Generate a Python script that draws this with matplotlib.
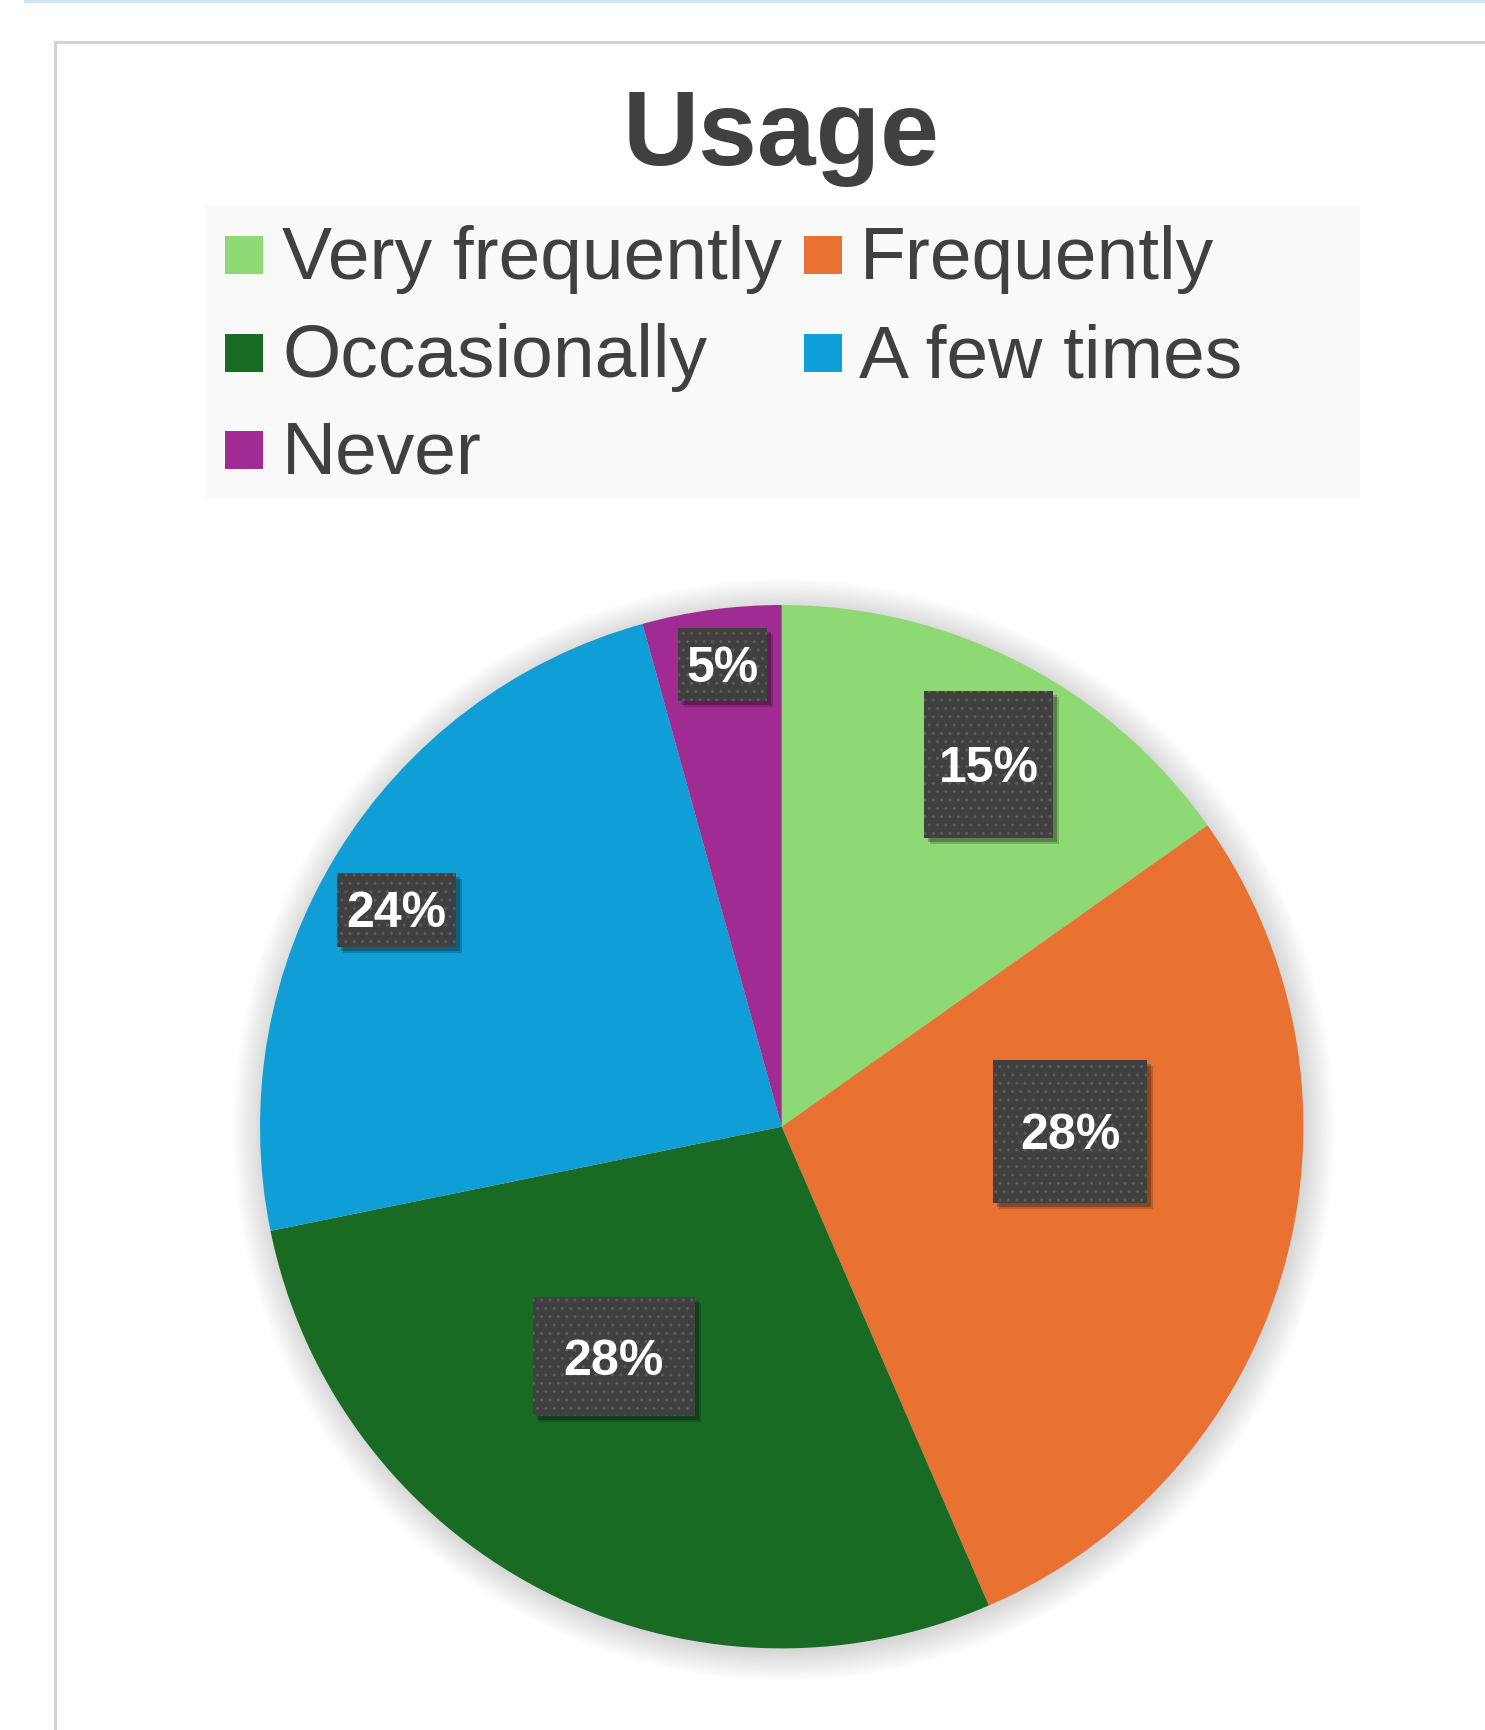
import numpy as np
import matplotlib
matplotlib.use('Agg')
import matplotlib.pyplot as plt
from matplotlib.patches import Rectangle, Circle
from matplotlib.transforms import Affine2D

plt.rcParams['font.family'] = ['Liberation Sans', 'DejaVu Sans']

# data (share of answers) and the printed labels
categories = ['Very frequently', 'Frequently', 'Occasionally', 'A few times', 'Never']
shares = [15.2, 28.3, 28.3, 23.9, 4.3]
labels = ['15%', '28%', '28%', '24%', '5%']
colors = ['#8ED973', '#E97132', '#196B24', '#0F9ED5', '#A02B93']

# label boxes were dragged around by hand in the original
lab_r = [0.80, 0.553, 0.546, 0.848, 0.894]
lab_dang = [2.4, -14.8, 8.6, -2.1, 0.4]
box_px = [(129, 147), (154, 143), (162, 119), (119, 74), (89, 73)]

W, H = 1485, 1730
fig = plt.figure(figsize=(W/100, H/100), dpi=100)
fig.patch.set_facecolor('white')
# pixel coords measured from the top-left corner
px = Affine2D().scale(1./W, -1./H).translate(0, 1) + fig.transFigure

# screenshot frame bits
fig.add_artist(Rectangle((24, 0), W, 3, transform=px, color='#cde6f6', lw=0))
fig.add_artist(Rectangle((55, 41), W, 2.5, transform=px, color='#d2d2d2', lw=0))
fig.add_artist(Rectangle((54, 41), 2.5, H, transform=px, color='#d2d2d2', lw=0))

fig.text(781/W, 1-165/H, 'Usage', ha='center', va='baseline', fontsize=76,
         weight='bold', color='#404040')

# legend
fig.add_artist(Rectangle((205, 205), 1155, 292, transform=px, color='#f9f9f9', lw=0))
base_y = [279, 377, 474]
mark_x = [225, 804]
text_x = [282, 859.5]
for i, (cat, c) in enumerate(zip(categories, colors)):
    row, col = i // 2, i % 2
    fig.add_artist(Rectangle((mark_x[col], base_y[row]-43), 38, 38, transform=px,
                             color=c, lw=0))
    fig.text(text_x[col]/W, 1-base_y[row]/H, cat, ha='left', va='baseline',
             fontsize=54, color='#404040')

# pie
R = 521.7
cx, cy = 781.7, 1126.7
lim = 1.12
half = lim*R
ax = fig.add_axes([(cx-half)/W, (H-cy-half)/H, 2*half/W, 2*half/H])

# soft shadow around the pie
for k in range(20):
    ax.add_patch(Circle((0.004, -0.006), 1+0.003*k, color='black', alpha=0.009,
                        lw=0, zorder=0))

wedges, _ = ax.pie(shares, colors=colors, startangle=90, counterclock=False,
                   wedgeprops=dict(linewidth=0), radius=1)
for w in wedges:
    w.set_zorder(1)
ax.set_xlim(-lim, lim)
ax.set_ylim(-lim, lim)
ax.set_aspect('equal')
ax.axis('off')

fs = 36
cap = fs*100/72*0.716/R
cum = np.cumsum([0] + shares[:-1])
tot = sum(shares)
for i in range(len(shares)):
    mid = (cum[i] + shares[i]/2)/tot*360 + lab_dang[i]
    th = np.deg2rad(mid)
    x = lab_r[i]*np.sin(th)
    y = lab_r[i]*np.cos(th)
    bw, bh = box_px[i][0]/R, box_px[i][1]/R
    off = 4/R
    ax.add_patch(Rectangle((x-bw/2+off*1.5, y-bh/2-off*1.5), bw, bh, color='black',
                           alpha=0.18, lw=0, zorder=2))
    ax.add_patch(Rectangle((x-bw/2+off, y-bh/2-off), bw, bh, color='black',
                           alpha=0.25, lw=0, zorder=2))
    ax.add_patch(Rectangle((x-bw/2, y-bh/2), bw, bh, facecolor='#404040',
                           edgecolor='#5c5c5c', hatch='..', lw=0, zorder=3))
    ax.text(x, y-cap/2, labels[i], ha='center', va='baseline', fontsize=fs,
            weight='bold', color='white', zorder=4)

plt.savefig('out.png', dpi=100)
